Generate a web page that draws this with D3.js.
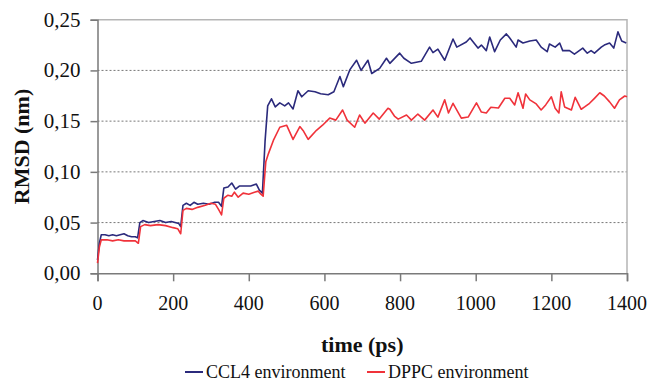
<!DOCTYPE html>
<html><head><meta charset="utf-8">
<script src="https://cdn.jsdelivr.net/npm/d3@7"></script>
</head>
<body style="margin:0">
<svg id="chart" width="651" height="387" font-family="Liberation Serif, Times New Roman, Tinos, FreeSerif, serif"></svg>
<script>
const seriesNames = ["CCL4 environment", "DPPC environment"];
const seriesColors = ["#2b2a7c", "#f0323a"];
const xTicks = [0, 200, 400, 600, 800, 1000, 1200, 1400];
const yTicks = [0, 0.05, 0.10, 0.15, 0.20, 0.25];
const yTickLabels = ["0,00", "0,05", "0,10", "0,15", "0,20", "0,25"];

const ccl4Time = [0,5,10,20,30,40,50,60,70,80,90,100,106,112,120,135,150,165,180,195,205,215,220,226,235,245,255,265,280,295,310,320,328,334,345,355,365,375,390,405,420,428,436,443,450,460,470,482,495,505,517,530,540,557,575,590,610,625,641,650,667,685,697,715,725,746,764,773,799,810,830,856,878,887,900,918,940,950,975,985,1006,1015,1028,1037,1050,1065,1081,1090,1107,1112,1125,1143,1160,1173,1189,1195,1210,1222,1230,1248,1261,1283,1295,1305,1314,1332,1340,1354,1365,1376,1386,1398];
const ccl4Rmsd = [0.013,0.030,0.038,0.038,0.037,0.038,0.037,0.038,0.039,0.037,0.036,0.036,0.035,0.050,0.052,0.050,0.051,0.052,0.050,0.051,0.050,0.049,0.046,0.067,0.069,0.067,0.070,0.068,0.069,0.068,0.070,0.070,0.066,0.084,0.085,0.089,0.083,0.086,0.086,0.086,0.088,0.082,0.079,0.130,0.165,0.172,0.164,0.168,0.165,0.168,0.162,0.180,0.174,0.180,0.179,0.177,0.176,0.179,0.194,0.184,0.2005,0.210,0.200,0.210,0.197,0.202,0.212,0.207,0.217,0.212,0.207,0.209,0.223,0.2175,0.221,0.210,0.231,0.223,0.228,0.232,0.222,0.225,0.2195,0.233,0.2185,0.230,0.236,0.232,0.223,0.230,0.227,0.229,0.230,0.223,0.2185,0.226,0.223,0.227,0.2195,0.2195,0.216,0.222,0.217,0.2195,0.217,0.223,0.225,0.227,0.222,0.238,0.229,0.227];

const dppcTime = [0,5,10,25,40,55,70,85,100,108,114,125,140,160,180,200,212,220,226,235,250,265,285,300,312,320,328,334,345,355,362,372,385,400,415,425,432,438,445,452,465,482,500,517,535,545,557,579,595,614,630,648,660,680,693,707,729,745,768,773,785,795,817,830,847,865,887,900,918,928,940,962,980,1002,1015,1028,1040,1060,1077,1090,1103,1112,1125,1132,1143,1160,1173,1185,1200,1210,1220,1226,1235,1253,1263,1279,1288,1301,1314,1328,1340,1354,1367,1380,1394,1400];
const dppcRmsd = [0.010,0.026,0.033,0.033,0.032,0.033,0.032,0.032,0.032,0.0296,0.046,0.048,0.047,0.048,0.047,0.045,0.044,0.039,0.062,0.064,0.063,0.065,0.067,0.069,0.068,0.063,0.0575,0.074,0.077,0.076,0.080,0.075,0.079,0.078,0.080,0.081,0.078,0.076,0.110,0.118,0.131,0.144,0.146,0.132,0.1446,0.140,0.132,0.141,0.146,0.153,0.151,0.161,0.151,0.144,0.156,0.148,0.158,0.152,0.1627,0.1617,0.155,0.152,0.156,0.151,0.157,0.151,0.161,0.154,0.171,0.158,0.1676,0.153,0.154,0.168,0.159,0.158,0.1637,0.163,0.1725,0.1725,0.166,0.178,0.1627,0.1768,0.171,0.167,0.161,0.166,0.174,0.1627,0.158,0.179,0.164,0.161,0.1735,0.1617,0.164,0.1676,0.1725,0.178,0.1748,0.169,0.1627,0.171,0.1748,0.174];

const series = [
  ccl4Time.map((t,i)=>({t, v: ccl4Rmsd[i]})),
  dppcTime.map((t,i)=>({t, v: dppcRmsd[i]}))
];

const FONT = `"Liberation Serif", "Times New Roman", Tinos, FreeSerif`;
const svg = d3.select("#chart");
const L = 97.5, R = 627, T = 19.7, B = 273.3;
const x = d3.scaleLinear().domain([0,1400]).range([L,R]);
const y = d3.scaleLinear().domain([0,0.25]).range([B,T]);

function serif(sel){ return sel.attr("font-family", FONT).style("font-family", FONT); }

// gridlines
svg.append("g").selectAll("line").data(yTicks.filter(v=>v>0 && v<0.25)).join("line")
  .attr("x1",L).attr("x2",R).attr("y1",d=>y(d)).attr("y2",d=>y(d))
  .attr("stroke","#777").attr("stroke-width",1).attr("stroke-dasharray","2,2");

// plot border top/right
svg.append("path").attr("d",`M${L},${T}H${R}V${B}`).attr("fill","none")
  .attr("stroke","#b5b5b5").attr("stroke-width",1.5);

// y axis
const gy = svg.append("g").attr("transform",`translate(${L},0)`)
  .call(d3.axisLeft(y).tickValues(yTicks).tickSize(7).tickFormat(""));
gy.select(".domain").attr("stroke","#7a7a7a").attr("stroke-width",1.5);
gy.selectAll(".tick line").attr("stroke","#7a7a7a").attr("stroke-width",1.5);
serif(svg.append("g").selectAll("text").data(yTicks).join("text"))
  .attr("x",L-17).attr("y",d=>y(d)+7).attr("text-anchor","end")
  .attr("font-size","21px").attr("fill","#111")
  .text((d,i)=>yTickLabels[i]);

// x axis
const gx = svg.append("g").attr("transform",`translate(0,${B})`)
  .call(d3.axisBottom(x).tickValues(xTicks).tickSize(8).tickFormat(""));
gx.select(".domain").attr("stroke","#7a7a7a").attr("stroke-width",1.5);
gx.selectAll(".tick line").attr("stroke","#7a7a7a").attr("stroke-width",1.5);
serif(svg.append("g").selectAll("text").data(xTicks).join("text"))
  .attr("x",d=>x(d)).attr("y",B+37).attr("text-anchor","middle")
  .attr("font-size","20px").attr("fill","#111")
  .text(d=>d3.format("d")(d));

// lines
const line = d3.line().x(d=>x(d.t)).y(d=>y(d.v));
series.forEach((s,i)=>{
  svg.append("path").datum(s).attr("d",line).attr("fill","none")
    .attr("stroke",seriesColors[i]).attr("stroke-width",1.6)
    .attr("stroke-linejoin","round");
});

// axis titles
serif(svg.append("text")).attr("x",(L+R)/2).attr("y",352).attr("text-anchor","middle")
  .attr("font-size","22px").attr("font-weight","bold").attr("fill","#111")
  .text("time (ps)");
serif(svg.append("text")).attr("transform",`translate(29,${(T+B)/2}) rotate(-90)`)
  .attr("text-anchor","middle").attr("font-size","22px").attr("font-weight","bold")
  .attr("fill","#111").text("RMSD (nm)");

// legend
const legX = [185, 367];
seriesNames.forEach((n,i)=>{
  const g = svg.append("g").attr("transform",`translate(${legX[i]},378)`);
  g.append("line").attr("x1",0).attr("x2",18).attr("y1",-6).attr("y2",-6)
    .attr("stroke",seriesColors[i]).attr("stroke-width",2);
  serif(g.append("text")).attr("x",21).attr("y",0).attr("font-size","18px").attr("fill","#111")
    .text(n);
});
</script>
</body></html>
